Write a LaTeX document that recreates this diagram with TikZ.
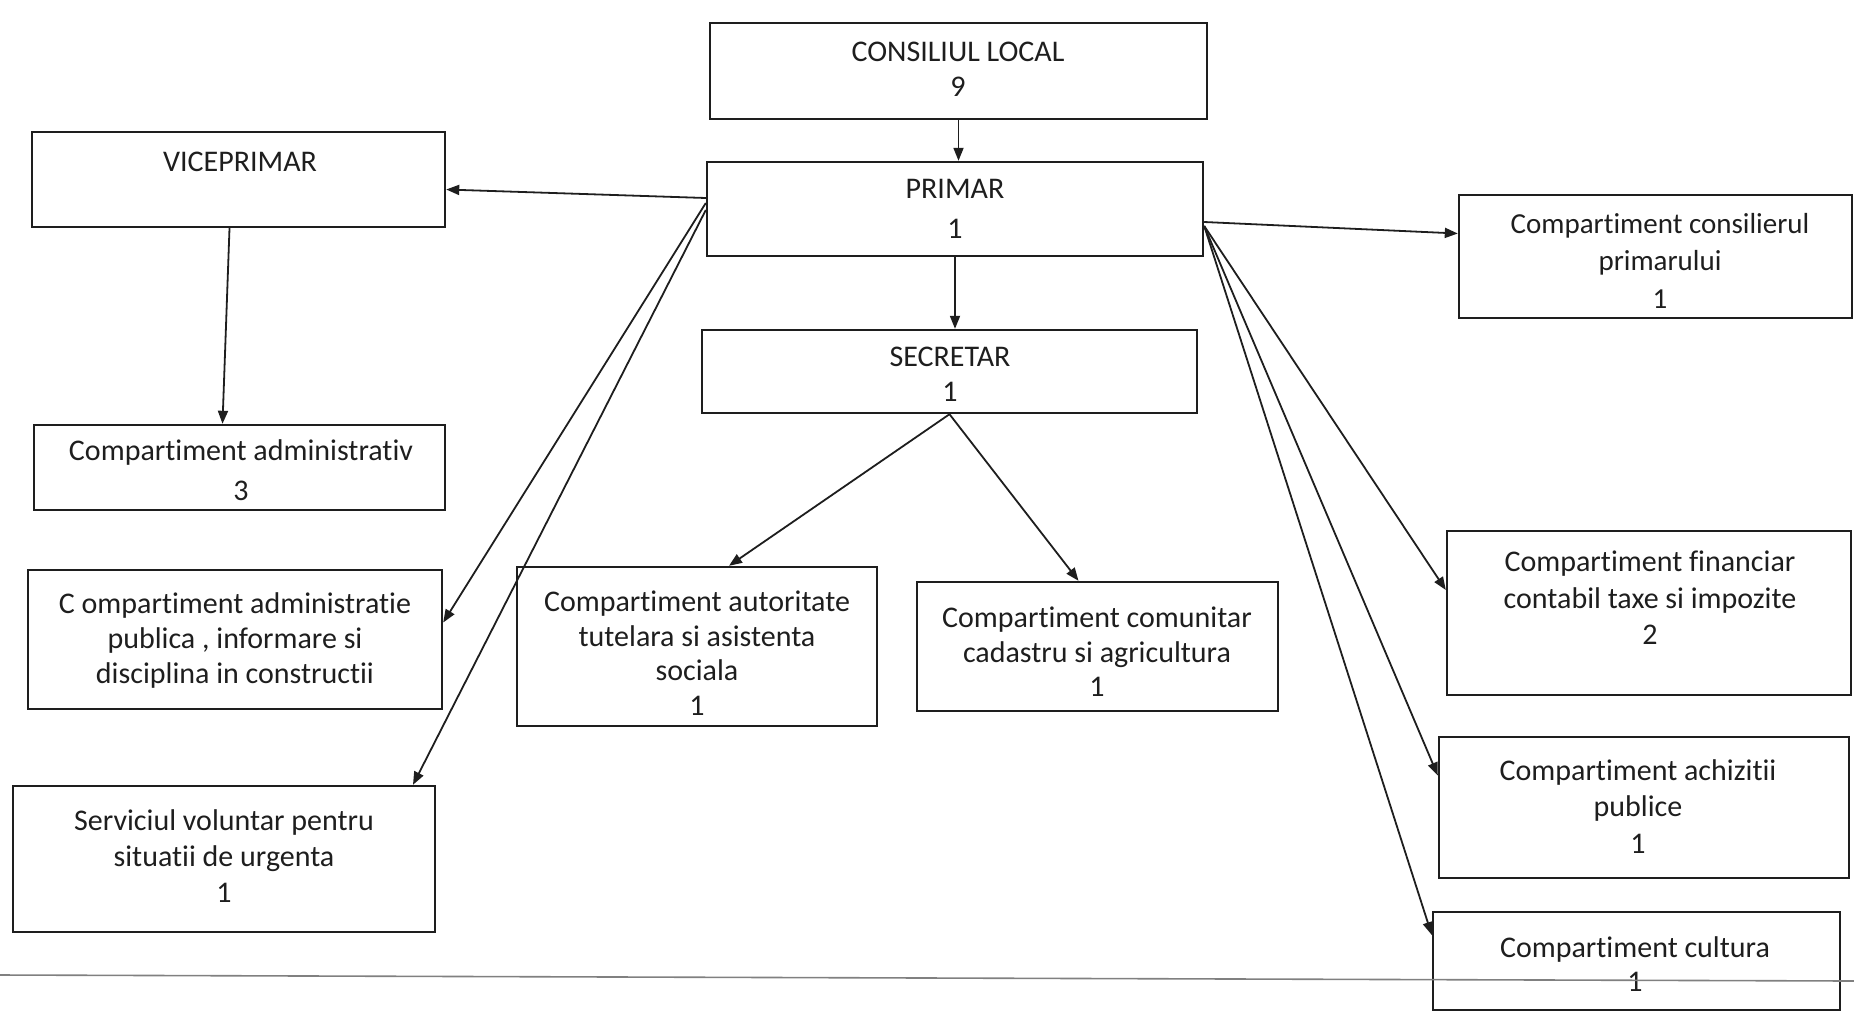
\documentclass[tikz,border=0pt]{standalone}
\usepackage{fontspec}
\setmainfont{Carlito}[Ligatures=NoCommon]
\usetikzlibrary{arrows.meta,calc}
\definecolor{ink}{HTML}{1E1E1E}
\tikzset{
  box/.style={draw=ink, line width=2.4pt, rectangle, inner sep=0pt},
  txt/.style={anchor=north, align=center, inner sep=0pt, text=ink, font=\fontsize{30}{36}\selectfont},
  arr/.style={draw=ink, line width=1.8pt, -{Triangle[length=13pt,width=10pt]}},
  scanline/.style={draw=black!50, line width=1.6pt}
}
\begin{document}
\begin{tikzpicture}[x=1pt,y=-1pt]
\useasboundingbox (0,0) rectangle (1854,1021);
% boxes
\node[box, minimum width=497pt, minimum height=96pt]  (cons)   at (958.5,71) {};
\node[box, minimum width=496pt, minimum height=94pt]  (prim)   at (955,209) {};
\node[box, minimum width=495pt, minimum height=83pt]  (sec)    at (949.5,371.5) {};
\node[box, minimum width=413pt, minimum height=95pt]  (vice)   at (238.5,179.5) {};
\node[box, minimum width=411pt, minimum height=85pt]  (adm)    at (239.5,467.5) {};
\node[box, minimum width=393pt, minimum height=123pt] (consil) at (1655.5,256.5) {};
\node[box, minimum width=414pt, minimum height=139pt] (pub)    at (235,639.5) {};
\node[box, minimum width=360pt, minimum height=159pt] (aut)    at (697,646.5) {};
\node[box, minimum width=361pt, minimum height=129pt] (com)    at (1097.5,646.5) {};
\node[box, minimum width=404pt, minimum height=164pt] (fin)    at (1649,613) {};
\node[box, minimum width=410pt, minimum height=141pt] (ach)    at (1644,807.5) {};
\node[box, minimum width=422pt, minimum height=146pt] (serv)   at (224,859) {};
\node[box, minimum width=407pt, minimum height=98pt]  (cult)   at (1636.5,961) {};
% texts
\node[txt, font=\fontsize{30}{35}\selectfont] (cons-t) at (958,42) {CONSILIUL LOCAL\\9};
\node[txt, font=\fontsize{30}{40}\selectfont] (prim-t) at (955,179) {PRIMAR\\1};
\node[txt, font=\fontsize{30}{35}\selectfont] (sec-t) at (950,347) {SECRETAR\\1};
\node[txt] (vice-t) at (240,152) {VICEPRIMAR};
\node[txt, font=\fontsize{30}{40}\selectfont] (adm-t) at (241,439) {Compartiment administrativ\\3};
\node[txt, font=\fontsize{29}{37.5}\selectfont] (consil-t) at (1660,213) {Compartiment consilierul\\primarului\\1};
\node[txt, font=\fontsize{30}{35}\selectfont] (pub-t) at (235,592) {C ompartiment administratie\\publica , informare si\\disciplina in constructii};
\node[txt, font=\fontsize{30}{34.5}\selectfont] (aut-t) at (697,591) {Compartiment autoritate\\tutelara si asistenta\\sociala\\1};
\node[txt, font=\fontsize{30}{34.5}\selectfont] (com-t) at (1097,607) {Compartiment comunitar\\cadastru si agricultura\\1};
\node[txt, font=\fontsize{30}{36.5}\selectfont] (fin-t) at (1650,551) {Compartiment financiar\\contabil taxe si impozite\\2};
\node[txt, font=\fontsize{30}{36.5}\selectfont] (ach-t) at (1638,759) {Compartiment achizitii\\publice\\1};
\node[txt] (serv-t) at (224,809) {Serviciul voluntar pentru\\situatii de urgenta\\1};
\node[txt, font=\fontsize{30}{34}\selectfont] (cult-t) at (1635,936) {Compartiment cultura\\1};
% connectors
\draw[arr] (cons.south) -- (cons.south |- prim.north);
\draw[arr] (prim.south) -- (prim.south |- sec.north);
\draw[arr] ([yshift=11pt]prim.west) -- ([yshift=-10pt]vice.east);
\draw[arr] ([xshift=-9pt]vice.south) -- ([xshift=-17pt]adm.north);
\draw[arr] ([yshift=-13pt]prim.east) -- ([yshift=23pt]consil.west);
\draw[arr] (sec.south) -- ([xshift=32pt]aut.north);
\draw[arr] (sec.south) -- ([xshift=-19pt]com.north);
\draw[arr] ([yshift=6pt]prim.west) -- ([yshift=17pt]pub.east);
\draw[arr] ([yshift=-1pt]prim.west) -- ([xshift=189pt]serv.north);
\draw[arr] ([yshift=-17pt]prim.east) -- ([yshift=23pt]fin.west);
\draw[arr] ([yshift=-17pt]prim.east) -- ([yshift=32pt]ach.west);
\draw[arr] ([yshift=-17pt]prim.east) -- ([yshift=26pt]cult.west);
% scan line across the page
\coordinate (sl) at (0,975);
\coordinate (sr) at (1854,981);
\draw[scanline] (sl) -- (sr);
\end{tikzpicture}
\end{document}
